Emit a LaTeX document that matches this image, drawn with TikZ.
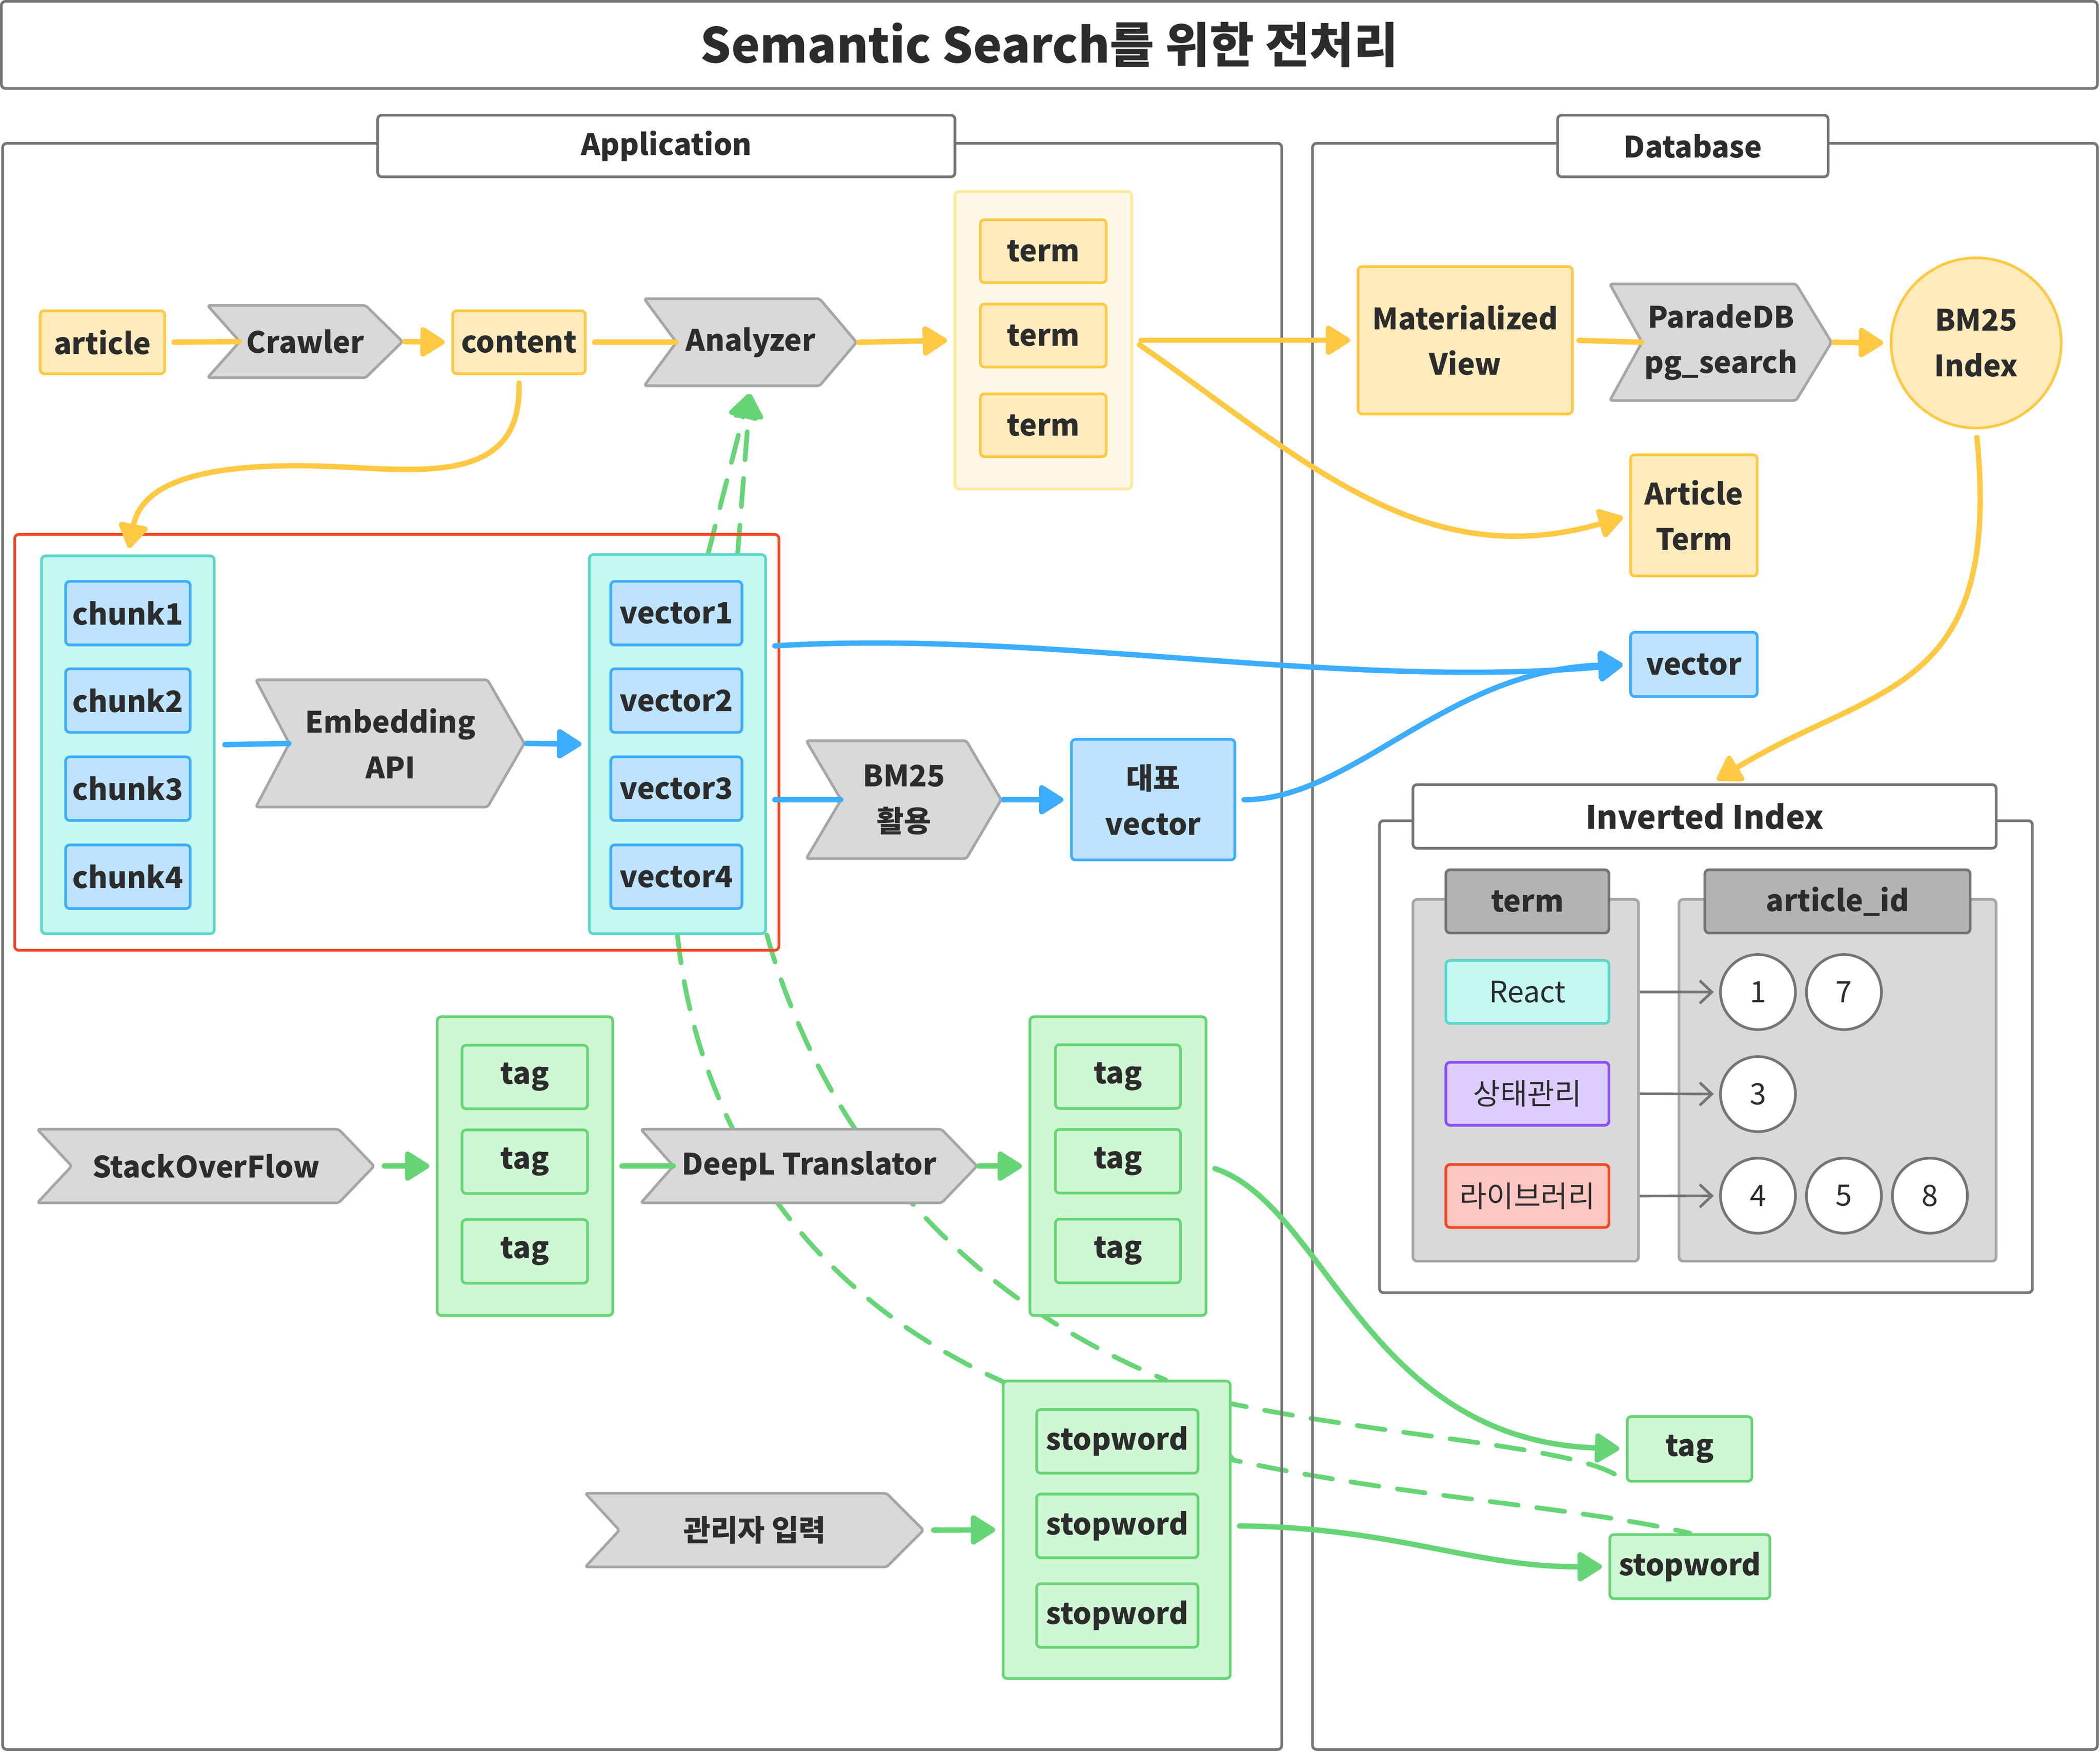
\documentclass[tikz,border=0pt]{standalone}
\usepackage{fontspec}
\setmainfont{Noto Sans CJK KR}
\usetikzlibrary{arrows.meta}
\definecolor{ink}{HTML}{2C2C2C}
\definecolor{frame}{HTML}{757575}
\definecolor{ylwline}{HTML}{FFC943}
\definecolor{ylwfill}{HTML}{FFEBBC}
\definecolor{ylwedge}{HTML}{FFE99B}
\definecolor{ylwbg}{HTML}{FFF8E6}
\definecolor{chevline}{HTML}{A6A6A6}
\definecolor{chevfill}{HTML}{D9D9D9}
\definecolor{blueline}{HTML}{3DADFF}
\definecolor{bluefill}{HTML}{BDE3FF}
\definecolor{mintline}{HTML}{5AD8CC}
\definecolor{mintfill}{HTML}{C4F8F0}
\definecolor{grnline}{HTML}{66D575}
\definecolor{grnfill}{HTML}{CFF7D3}
\definecolor{redline}{HTML}{F24822}
\definecolor{redfill}{HTML}{FFC7C2}
\definecolor{purpline}{HTML}{8A4FFF}
\definecolor{purpfill}{HTML}{DCCCFF}
\definecolor{colline}{HTML}{A6A6A6}
\definecolor{colfill}{HTML}{D9D9D9}
\definecolor{hdrfill}{HTML}{B3B3B3}
\pgfdeclarelayer{back}
\pgfsetlayers{back,main}
\tikzset{
    >={Triangle[length=20pt,width=24pt,round]},
    sz/.style 2 args={minimum width=#1pt, minimum height=#2pt, inner sep=0pt},
    frm/.style={draw=frame, line width=2pt, rounded corners=3pt},
    lbl/.style={frm, fill=white},
    ybox/.style={draw=ylwline, fill=ylwfill, line width=2pt, rounded corners=3pt},
    ygrp/.style={draw=ylwedge, fill=ylwbg, line width=2pt, rounded corners=3pt},
    bbox/.style={draw=blueline, fill=bluefill, line width=2pt, rounded corners=3pt},
    mgrp/.style={draw=mintline, fill=mintfill, line width=2pt, rounded corners=3pt},
    gbox/.style={draw=grnline, fill=grnfill, line width=2pt, rounded corners=3pt},
    col/.style={draw=colline, fill=colfill, line width=2pt, rounded corners=3pt},
    hdr/.style={draw=frame, fill=hdrfill, line width=2pt, rounded corners=3pt},
    tbox/.style={sz={121.7}{47}, line width=2pt, rounded corners=3pt, font=\fontsize{22}{28}\selectfont},
    idnum/.style={circle, draw=frame, fill=white, line width=2pt, minimum size=56pt, inner sep=0pt, font=\fontsize{22}{28}\selectfont},
    chev/.style 2 args={path picture={
        \draw[draw=chevline, fill=chevfill, line width=2pt, rounded corners=2pt]
          ([shift={(1pt,-1pt)}]path picture bounding box.north west)
          -- ([shift={(-#1pt,-1pt)}]path picture bounding box.north east)
          -- ([xshift=-1.5pt]path picture bounding box.east)
          -- ([shift={(-#1pt,1pt)}]path picture bounding box.south east)
          -- ([shift={(1pt,1pt)}]path picture bounding box.south west)
          -- ([xshift=#2pt]path picture bounding box.west) -- cycle;}},
    yline/.style={draw=ylwline, line width=4pt, line cap=round},
    bline/.style={draw=blueline, line width=4pt, line cap=round},
    gline/.style={draw=grnline, line width=4pt, line cap=round},
    gdash/.style={draw=grnline, line width=3.5pt, line cap=round, dash pattern=on 21pt off 14pt},
    arr/.style={->, shorten >=5pt},
    idarr/.style={draw=frame, line width=2pt, -{Straight Barb[length=9pt,width=17pt]}, shorten >=4pt},
}

\begin{document}
\begin{tikzpicture}[x=1pt, y=-1pt,
    every node/.style={text=ink, align=center, font=\bfseries\fontsize{22}{34}\selectfont}]
    \useasboundingbox (0,0) rectangle (1568,1308.4);
    % frames
    \draw[frm] (2,107) rectangle (957,1306);
    \draw[frm] (980,107) rectangle (1566,1306);
    \draw[draw=redline, line width=2pt, rounded corners=3pt] (11,399) rectangle (581.6,709.4);
    \draw[frm] (1030,612.7) rectangle (1517.5,965);
    \node[lbl, sz={1565}{65}, font=\bfseries\fontsize{36}{44}\selectfont] (title) at (783.5,33.5) {Semantic Search를 위한 전처리};
    \node[lbl, sz={431}{46}] (applbl) at (497.5,109) {Application};
    \node[lbl, sz={202}{46}] (dblbl) at (1264,109) {Database};

    % article -> terms
    \node[ybox, sz={93}{47}] (article) at (76.5,255.5) {article};
    \node[chev={29}{25}, sz={148}{56}] (crawler) at (228,255) {Crawler};
    \node[ybox, sz={99}{47}] (content) at (387.5,255.5) {content};
    \node[chev={29}{25}, sz={161}{67}] (analyzer) at (560.5,255.5) {Analyzer};
    \node[ygrp, sz={132}{222}] (termgrp) at (779,254) {};
    \foreach \y [count=\i] in {187.5,250.5,317.5}
        \node[ybox, sz={94}{47}] (term\i) at (779,\y) {term};
    \node[ybox, sz={160}{110}] (matview) at (1094,254) {Materialized\\View};
    \node[chev={28}{25}, sz={168}{89}] (parade) at (1285,255.5) {ParadeDB\\pg\_search};
    \node[ybox, circle, minimum size=127pt, inner sep=0pt] (bm25idx) at (1475.5,256) {BM25\\Index};
    \node[ybox, sz={94.5}{90.5}] (artterm) at (1264.75,384.75) {Article\\Term};
    \node[bbox, sz={94.5}{48}] (dbvector) at (1264.75,496) {vector};

    % chunks -> vectors
    \node[mgrp, sz={129}{282}] (chunkgrp) at (95.5,556) {};
    \node[mgrp, sz={131.6}{283}] (vecgrp) at (505.8,555.5) {};
    \foreach \y [count=\i] in {457.75,523,588.75,654.5} {
        \node[bbox, sz={93}{47.5}] (chunk\i) at (95.5,\y) {chunk\i};
        \node[bbox, sz={98}{47.5}] (vec\i) at (505,\y) {vector\i};
    }
    \node[chev={29}{26}, sz={203}{97}] (embed) at (291.5,555) {Embedding\\API};
    \node[chev={27.5}{27}, sz={148}{90}] (bm25use) at (675,597) {BM25\\활용};
    \node[bbox, sz={122}{90}] (repvec) at (861,597) {대표\\vector};

    % inverted index
    \node[lbl, sz={435.5}{47.5}, font=\bfseries\fontsize{24}{30}\selectfont] (invlbl) at (1272.75,609.5) {Inverted Index};
    \node[col, sz={168.4}{270}] (termcol) at (1139.2,806.5) {};
    \node[col, sz={236.8}{270}] (idcol) at (1372,806.5) {};
    \node[hdr, sz={121.7}{47.2}] (termhdr) at (1140.45,672.9) {term};
    \node[hdr, sz={198}{47.2}] (idhdr) at (1372,672.9) {article\_id};
    \node[tbox, draw=mintline, fill=mintfill] (react) at (1140.45,740.5) {React};
    \node[tbox, draw=purpline, fill=purpfill] (state) at (1140.45,816.5) {상태관리};
    \node[tbox, draw=redline, fill=redfill] (lib) at (1140.45,892.85) {라이브러리};
    \node[idnum] (id1) at (1312.6,740.6) {1};
    \node[idnum] (id7) at (1376.8,740.6) {7};
    \node[idnum] (id3) at (1312.6,816.8) {3};
    \node[idnum] (id4) at (1312.6,892.6) {4};
    \node[idnum] (id5) at (1376.8,892.6) {5};
    \node[idnum] (id8) at (1441,892.6) {8};

    % tags and stopwords
    \node[chev={28}{26.7}, sz={254}{57}] (so) at (153.85,870.5) {StackOverFlow};
    \node[gbox, sz={131}{223}] (taggrp1) at (392,870.5) {};
    \node[chev={28}{25.3}, sz={253.5}{57}] (deepl) at (604.25,870.5) {DeepL Translator};
    \node[gbox, sz={131.5}{223}] (taggrp2) at (834.75,870.5) {};
    \foreach \y [count=\i] in {804,867.2,934.2} {
        \node[gbox, sz={93.7}{47.5}] (tagA\i) at (391.85,\y) {tag};
        \node[gbox, sz={93.4}{47.5}] (tagB\i) at (834.7,\y-0.3) {tag};
    }
    \node[gbox, sz={169.6}{222}] (stopgrp) at (833.8,1142) {};
    \foreach \y [count=\i] in {1076,1139.1,1206}
        \node[gbox, sz={120.5}{47.5}] (stop\i) at (834.25,\y) {stopword};
    \node[chev={29}{26.5}, sz={255}{57}] (admin) at (563.5,1142.3) {관리자 입력};
    \node[gbox, sz={93}{48.3}] (dbtag) at (1261.5,1081.65) {tag};
    \node[gbox, sz={119.5}{47.8}] (dbstop) at (1261.75,1169.5) {stopword};

    % yellow flow
    \draw[yline, shorten <=6pt] (article.east) -- ([xshift=25pt]crawler.west);
    \draw[yline, arr] (crawler.east) -- (content.west);
    \draw[yline, shorten <=6pt] (content.east) -- ([xshift=25pt]analyzer.west);
    \draw[yline, arr] (analyzer.east) -- (termgrp.west);
    \draw[yline, arr, shorten <=6pt] (termgrp.east) -- (matview.west);
    \draw[yline, shorten <=4pt] (matview.east) -- ([xshift=25pt]parade.west);
    \draw[yline, arr] (parade.east) -- (bm25idx.west);
    \draw[yline, arr, shorten <=6pt] (termgrp.east) .. controls (970,340) and (1060,430) .. (artterm.west);
    \draw[yline, arr, shorten <=6pt] (bm25idx.south) .. controls (1495,520) and (1400,510) .. ([xshift=5pt]invlbl.north);
    \draw[yline, arr] ([yshift=-6pt]content.south) .. controls (390,365) and (310,350) .. (240,348)
        .. controls (140,345) and (105,365) .. (chunkgrp.north);

    % blue flow
    \draw[bline, shorten <=7pt] (chunkgrp.east) -- ([xshift=26pt]embed.west);
    \draw[bline, arr] (embed.east) -- (vecgrp.west);
    \draw[bline, shorten <=6pt] (vecgrp.east |- bm25use) -- ([xshift=27pt]bm25use.west);
    \draw[bline, arr] (bm25use.east) -- (repvec.west);
    \draw[bline, arr, shorten <=6pt] (vecgrp.east |- vec1.south) .. controls (780,470) and (1000,515) .. (dbvector.west);
    \draw[bline, arr, shorten <=6pt] (repvec.east) .. controls (1010,597) and (1080,500) .. (dbvector.west);

    % green flow
    \draw[gline, arr, shorten <=6pt] (so.east) -- (taggrp1.west);
    \draw[gline, shorten <=6pt] (taggrp1.east) -- ([xshift=25.3pt]deepl.west);
    \draw[gline, arr] (deepl.east) -- (taggrp2.west);
    \draw[gline, arr, shorten <=6pt] (taggrp2.east) .. controls (990,900) and (1020,1075) .. (dbtag.west);
    \draw[gline, arr, shorten <=6pt] (admin.east) -- (stopgrp.west);
    \draw[gline, arr, shorten <=6pt] (stopgrp.east |- stop2) .. controls (1040,1140) and (1100,1170) .. (dbstop.west);

    % inverted index arrows
    \draw[idarr] (react -| termcol.east) -- (id1);
    \draw[idarr] (state -| termcol.east) -- (id3);
    \draw[idarr] (lib -| termcol.east) -- (id4);

    % dashed lines, behind the boxes
    \begin{pgfonlayer}{back}
        \draw[gdash, arr] ([xshift=23pt]vecgrp.north) -- (analyzer.south);
        \draw[gdash, arr] ([xshift=45pt]vecgrp.north) -- (analyzer.south);
        \draw[gdash] (vecgrp.south) .. controls (520,830) and (590,960) .. (750,1032) -- (920,1048)
            .. controls (1050,1075) and (1190,1080) .. (dbtag.south west);
        \draw[gdash] (vecgrp.south east) .. controls (610,830) and (700,960) .. (870,1030) -- (921,1090)
            .. controls (1050,1118) and (1180,1125) .. (dbstop.north);
    \end{pgfonlayer}
\end{tikzpicture}
\end{document}
